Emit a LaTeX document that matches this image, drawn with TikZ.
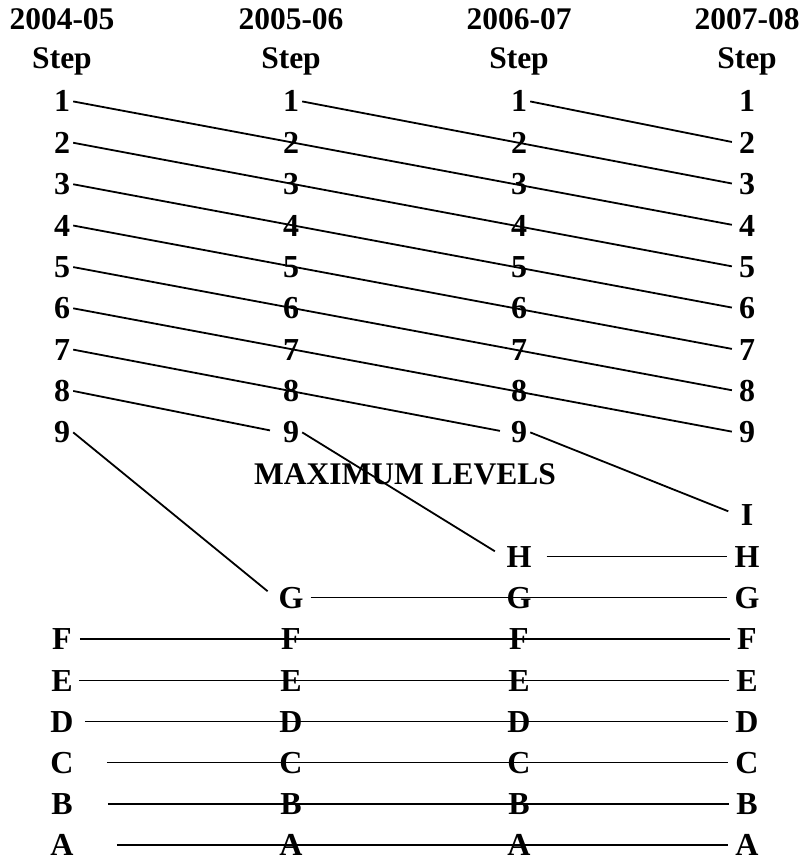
\documentclass[tikz,border=0pt]{standalone}
\usepackage{fontspec}
\setmainfont{Liberation Serif}
\begin{document}
\begin{tikzpicture}[x=1pt,y=-1pt,
  lbl/.style={anchor=base,inner xsep=3pt,inner ysep=0pt,font=\fontsize{32}{36}\selectfont\bfseries},
  hdr/.style={anchor=base,inner sep=0pt,font=\fontsize{31.5}{36}\selectfont\bfseries},
  link/.style={line width=1.8pt,shorten >=4pt},
  farend/.style={shorten >=10pt}]
\useasboundingbox (0,0) rectangle (805,861);
% headers
\node[hdr] (h1) at (62,30) {2004-05};
\node[hdr] (h2) at (291,30) {2005-06};
\node[hdr] (h3) at (519,30) {2006-07};
\node[hdr] (h4) at (747,30) {2007-08};
\node[hdr] (s1) at (62,69) {Step};
\node[hdr] (s2) at (291,69) {Step};
\node[hdr] (s3) at (519,69) {Step};
\node[hdr] (s4) at (747,69) {Step};
% step numbers
\foreach \c/\x in {1/62,2/291,3/519,4/747}{
  \foreach \k in {1,...,9}{
    \node[lbl] (c\c r\k) at (\x,{112+41.35*(\k-1)}) {\k};
  }
}
\node[hdr] (max) at (405,484) {MAXIMUM LEVELS};
% letters
\node[lbl] (c4I) at (747,525.5) {I};
\node[lbl] (c3H) at (519,567) {H};
\node[lbl] (c4H) at (747,567) {H};
\foreach \c/\x in {2/291,3/519,4/747}{
  \node[lbl] (c\c G) at (\x,608) {G};
}
\foreach \c/\x in {1/62,2/291,3/519,4/747}{
  \node[lbl] (c\c F) at (\x,649.5) {F};
  \node[lbl] (c\c E) at (\x,691) {E};
  \node[lbl] (c\c D) at (\x,732) {D};
  \node[lbl] (c\c C) at (\x,773) {C};
  \node[lbl] (c\c B) at (\x,814.5) {B};
  \node[lbl] (c\c A) at (\x,855.5) {A};
}
% diagonal links
\draw[link] (c3r1.east) -- (c4r2.west);
\draw[link] (c2r1.east) -- (c4r3.west);
\draw[link] (c1r1.east) -- (c4r4.west);
\draw[link] (c1r2.east) -- (c4r5.west);
\draw[link] (c1r3.east) -- (c4r6.west);
\draw[link] (c1r4.east) -- (c4r7.west);
\draw[link] (c1r5.east) -- (c4r8.west);
\draw[link] (c1r6.east) -- (c4r9.west);
\draw[link,shorten >=8pt] (c1r7.east) -- (c3r9.west);
\draw[link,farend] (c1r8.east) -- (c2r9.west);
\draw[link,farend] (c1r9.east) -- (c2G.west);
\draw[link,farend] (c2r9.east) -- (c3H.west);
\draw[link,farend] (c3r9.east) -- (c4I.west);
% horizontal links
\draw[link,shorten <=12pt] (c3H.east) -- (c4H.west);
\draw[link,shorten <=4pt] (c2G.east) -- (c4G.west);
\draw[link,shorten <=5pt] (c1F.east) -- (c4F.west);
\draw[link,shorten <=3pt] (c1E.east) -- (c4E.west);
\draw[link,shorten <=8pt] (c1D.east) -- (c4D.west);
\draw[link,shorten <=30pt] (c1C.east) -- (c4C.west);
\draw[link,shorten <=32pt] (c1B.east) -- (c4B.west);
\draw[link,shorten <=40pt] (c1A.east) -- (c4A.west);
\end{tikzpicture}
\end{document}
